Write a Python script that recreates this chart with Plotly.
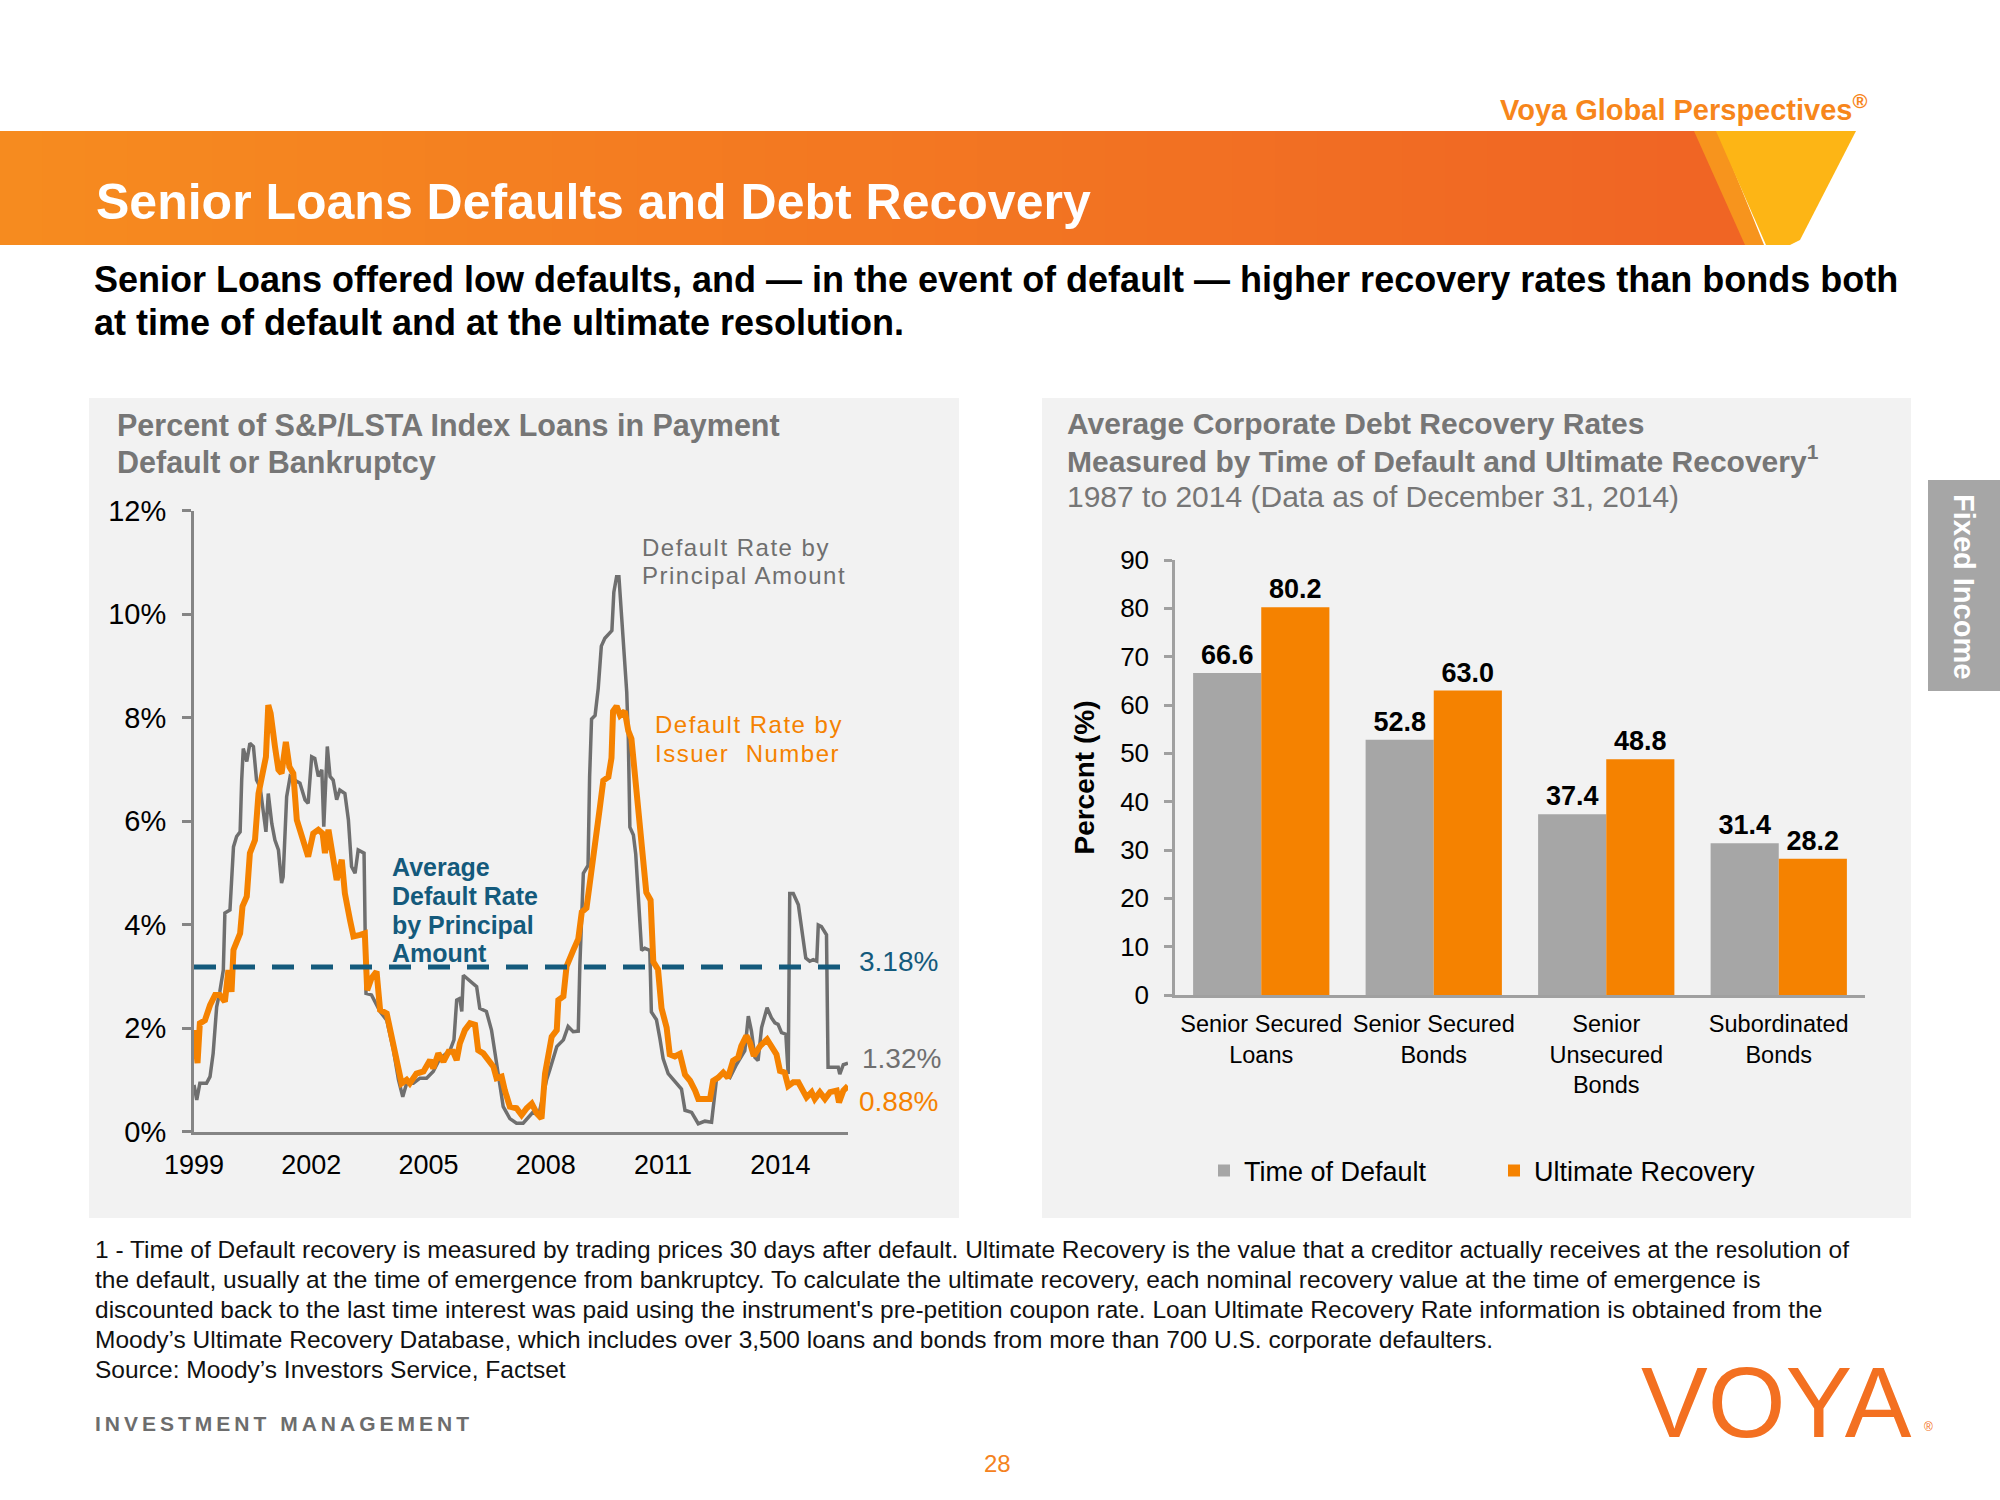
import plotly.graph_objects as go

# ---------------- data ----------------
PRINCIPAL_DATES = [
    1999.00, 1999.07, 1999.15, 1999.32, 1999.41, 1999.49, 1999.58, 1999.66, 1999.75, 1999.79,
    1999.92, 2000.01, 2000.09, 2000.18, 2000.22, 2000.26, 2000.35, 2000.43, 2000.52, 2000.60,
    2000.69, 2000.77, 2000.84, 2000.90, 2000.99, 2001.07, 2001.16, 2001.24, 2001.28, 2001.37,
    2001.46, 2001.58, 2001.71, 2001.84, 2001.92, 2002.01, 2002.09, 2002.18, 2002.27, 2002.32,
    2002.41, 2002.48, 2002.56, 2002.65, 2002.73, 2002.86, 2002.95, 2003.03, 2003.12, 2003.20,
    2003.35, 2003.40, 2003.54, 2003.76, 2003.93, 2004.10, 2004.23, 2004.34, 2004.44, 2004.61,
    2004.78, 2004.95, 2005.12, 2005.29, 2005.55, 2005.65, 2005.72, 2005.80, 2005.85, 2005.89,
    2006.23, 2006.31, 2006.48, 2006.61, 2006.74, 2006.83, 2006.91, 2007.08, 2007.25, 2007.42,
    2007.59, 2007.68, 2007.81, 2008.02, 2008.10, 2008.28, 2008.45, 2008.57, 2008.70, 2008.83,
    2008.87, 2008.96, 2009.08, 2009.12, 2009.17, 2009.26, 2009.34, 2009.42, 2009.51, 2009.69,
    2009.74, 2009.81, 2009.87, 2009.90, 2009.98, 2010.07, 2010.11, 2010.15, 2010.24, 2010.30,
    2010.36, 2010.45, 2010.53, 2010.66, 2010.70, 2010.83, 2010.92, 2011.00, 2011.13, 2011.30,
    2011.47, 2011.56, 2011.73, 2011.90, 2012.07, 2012.24, 2012.33, 2012.37, 2012.54, 2012.71,
    2012.88, 2013.00, 2013.09, 2013.18, 2013.26, 2013.35, 2013.43, 2013.52, 2013.60, 2013.66,
    2013.77, 2013.86, 2013.94, 2014.03, 2014.14, 2014.20, 2014.24, 2014.33, 2014.46, 2014.54,
    2014.65, 2014.75, 2014.84, 2014.93, 2014.97, 2015.05, 2015.18, 2015.22, 2015.35, 2015.48,
    2015.52, 2015.61, 2015.73,
]
PRINCIPAL_RATE = [
    0.90, 0.61, 0.93, 0.93, 1.06, 1.51, 2.41, 2.70, 3.12, 4.22,
    4.28, 5.50, 5.70, 5.79, 6.79, 7.40, 7.15, 7.50, 7.44, 6.79,
    6.66, 6.15, 5.79, 6.53, 5.95, 5.63, 5.44, 4.80, 4.92, 6.47,
    6.86, 6.79, 6.73, 6.41, 6.34, 7.24, 7.21, 6.86, 6.99, 5.89,
    7.44, 6.86, 6.79, 6.41, 6.60, 6.53, 6.02, 5.12, 4.99, 5.44,
    5.38, 2.67, 2.64, 2.32, 2.15, 1.58, 1.00, 0.67, 0.93, 0.93,
    1.03, 1.03, 1.16, 1.41, 1.57, 1.77, 2.54, 2.57, 2.32, 3.02,
    2.80, 2.38, 2.32, 1.96, 1.32, 0.87, 0.48, 0.25, 0.16, 0.16,
    0.29, 0.38, 0.29, 1.00, 1.19, 1.64, 1.77, 2.03, 1.93, 1.94,
    3.20, 4.99, 5.14, 6.85, 7.97, 8.04, 8.56, 9.38, 9.53, 9.68,
    10.42, 10.72, 10.72, 10.35, 9.46, 8.49, 7.59, 5.88, 5.73, 5.36,
    4.62, 3.50, 3.54, 3.50, 2.31, 2.16, 1.79, 1.41, 1.12, 0.97,
    0.82, 0.41, 0.37, 0.15, 0.20, 0.18, 0.85, 1.04, 1.11, 1.04,
    1.30, 1.46, 1.56, 2.23, 1.94, 1.43, 1.37, 2.01, 2.20, 2.39,
    2.20, 2.10, 2.07, 1.91, 1.88, 1.11, 4.60, 4.60, 4.38, 3.93,
    3.35, 3.29, 3.32, 3.29, 3.99, 3.96, 3.80, 1.24, 1.24, 1.24,
    1.11, 1.29, 1.32,
]
ISSUER_DATES = [
    1999.00, 1999.09, 1999.15, 1999.28, 1999.41, 1999.54, 1999.66, 1999.79, 1999.88, 1999.96,
    2000.01, 2000.18, 2000.24, 2000.35, 2000.43, 2000.56, 2000.65, 2000.76, 2000.84, 2000.90,
    2000.96, 2001.07, 2001.16, 2001.24, 2001.35, 2001.44, 2001.54, 2001.63, 2001.75, 2001.92,
    2002.05, 2002.18, 2002.29, 2002.35, 2002.44, 2002.52, 2002.65, 2002.78, 2002.86, 2002.99,
    2003.08, 2003.25, 2003.37, 2003.43, 2003.54, 2003.67, 2003.76, 2003.93, 2004.06, 2004.18,
    2004.31, 2004.44, 2004.52, 2004.69, 2004.87, 2005.04, 2005.12, 2005.25, 2005.38, 2005.51,
    2005.63, 2005.72, 2005.80, 2005.93, 2006.06, 2006.19, 2006.27, 2006.40, 2006.53, 2006.66,
    2006.74, 2006.87, 2006.95, 2007.08, 2007.25, 2007.38, 2007.51, 2007.64, 2007.77, 2007.89,
    2007.98, 2008.06, 2008.15, 2008.28, 2008.32, 2008.45, 2008.53, 2008.70, 2008.83, 2008.92,
    2009.04, 2009.12, 2009.21, 2009.30, 2009.38, 2009.47, 2009.60, 2009.68, 2009.72, 2009.81,
    2009.90, 2010.02, 2010.11, 2010.19, 2010.28, 2010.36, 2010.45, 2010.57, 2010.68, 2010.75,
    2010.87, 2010.96, 2011.09, 2011.17, 2011.30, 2011.43, 2011.56, 2011.69, 2011.82, 2011.90,
    2012.20, 2012.28, 2012.41, 2012.54, 2012.66, 2012.79, 2012.92, 2013.00, 2013.13, 2013.22,
    2013.32, 2013.48, 2013.66, 2013.80, 2013.90, 2013.99, 2014.11, 2014.20, 2014.33, 2014.46,
    2014.54, 2014.67, 2014.80, 2014.88, 2015.01, 2015.14, 2015.27, 2015.44, 2015.50, 2015.61,
    2015.73,
]
ISSUER_RATE = [
    1.96, 1.32, 2.09, 2.15, 2.44, 2.64, 2.64, 2.51, 3.12, 2.70,
    3.51, 3.83, 4.35, 4.54, 5.38, 5.63, 6.53, 6.92, 7.24, 8.24,
    8.08, 7.44, 6.99, 6.92, 7.53, 7.05, 6.92, 6.02, 5.76, 5.31,
    5.76, 5.83, 5.76, 5.38, 5.83, 5.44, 4.86, 5.25, 4.60, 4.09,
    3.77, 3.80, 3.83, 2.73, 2.96, 3.09, 2.35, 2.28, 1.77, 1.38,
    0.93, 1.00, 0.93, 1.12, 1.16, 1.38, 1.22, 1.51, 1.35, 1.54,
    1.54, 1.38, 1.70, 1.96, 2.09, 2.06, 1.57, 1.51, 1.38, 1.25,
    1.03, 1.06, 0.80, 0.48, 0.45, 0.32, 0.45, 0.54, 0.35, 0.25,
    1.12, 1.51, 1.83, 1.96, 2.54, 2.61, 3.19, 3.50, 3.72, 4.24,
    4.32, 4.77, 5.36, 5.96, 6.25, 6.78, 6.85, 7.22, 8.12, 8.22,
    8.04, 8.12, 7.74, 7.59, 6.85, 6.11, 5.51, 4.62, 4.47, 3.28,
    3.13, 2.38, 2.01, 1.49, 1.45, 1.50, 1.10, 0.98, 0.79, 0.63,
    0.63, 0.98, 1.04, 1.14, 1.04, 1.37, 1.43, 1.65, 1.85, 1.72,
    1.46, 1.65, 1.78, 1.62, 1.49, 1.17, 1.14, 0.88, 0.95, 0.95,
    0.85, 0.66, 0.76, 0.63, 0.76, 0.63, 0.76, 0.79, 0.56, 0.79,
    0.88,
]
AVERAGE_RATE = 3.18
LAST_PRINCIPAL = "1.32%"
LAST_ISSUER = "0.88%"
YEAR_TICKS = [1999, 2002, 2005, 2008, 2011, 2014]
YEAR_LABELS = ["1999", "2002", "2005", "2008", "2011", "2014"]
PCT_TICKS = [0, 2, 4, 6, 8, 10, 12]
PCT_LABELS = ["0%", "2%", "4%", "6%", "8%", "10%", "12%"]

CATEGORIES = ["Senior Secured<br>Loans", "Senior Secured<br>Bonds",
              "Senior<br>Unsecured<br>Bonds", "Subordinated<br>Bonds"]
TIME_OF_DEFAULT = [66.6, 52.8, 37.4, 31.4]
ULTIMATE_RECOVERY = [80.2, 63.0, 48.8, 28.2]

FOOTNOTE = [
    "1 - Time of Default recovery is measured by trading prices 30 days after default. Ultimate Recovery is the value that a creditor actually receives at the resolution of",
    "the default, usually at the time of emergence from bankruptcy. To calculate the ultimate recovery, each nominal recovery value at the time of emergence is",
    "discounted back to the last time interest was paid using the instrument's pre-petition coupon rate. Loan Ultimate Recovery Rate information is obtained from the",
    "Moody\u2019s Ultimate Recovery Database, which includes over 3,500 loans and bonds from more than 700 U.S. corporate defaulters.",
    "Source: Moody\u2019s Investors Service, Factset",
]

# ---------------- page geometry helpers ----------------
W, H = 2000, 1500
FONT = "Liberation Sans, Arial, Helvetica, sans-serif"
ORANGE = "#F58200"
GRAY_LINE = "#6F6F6F"
BLUE = "#145A7C"
TITLE_GRAY = "#767676"


def px(x):
    return x / W


def py(y):
    return 1 - y / H


def poly(points):
    return "M " + " L ".join(f"{px(x):.5f},{py(y):.5f}" for x, y in points) + " Z"


fig = go.Figure()

# ---------------- left chart ----------------
fig.add_trace(go.Scatter(x=PRINCIPAL_DATES, y=PRINCIPAL_RATE, mode="lines",
                         line=dict(color=GRAY_LINE, width=3.5),
                         xaxis="x", yaxis="y", showlegend=False, hoverinfo="skip"))
fig.add_trace(go.Scatter(x=ISSUER_DATES, y=ISSUER_RATE, mode="lines",
                         line=dict(color=ORANGE, width=6),
                         xaxis="x", yaxis="y", showlegend=False, hoverinfo="skip"))
fig.add_trace(go.Scatter(x=[PRINCIPAL_DATES[0], PRINCIPAL_DATES[-1]],
                         y=[AVERAGE_RATE, AVERAGE_RATE], mode="lines",
                         line=dict(color=BLUE, width=5, dash="22px,17px"),
                         xaxis="x", yaxis="y", showlegend=False, hoverinfo="skip"))

# ---------------- right chart ----------------
fig.add_trace(go.Bar(x=CATEGORIES, y=TIME_OF_DEFAULT, name="Time of Default",
                     marker_color="#A6A6A6", marker_line_width=0,
                     text=[f"{v:.1f}" for v in TIME_OF_DEFAULT], textposition="outside",
                     textfont=dict(family=FONT, size=27, color="#000000", weight="bold"),
                     cliponaxis=False, xaxis="x2", yaxis="y2", hoverinfo="skip"))
fig.add_trace(go.Bar(x=CATEGORIES, y=ULTIMATE_RECOVERY, name="Ultimate Recovery",
                     marker_color=ORANGE, marker_line_width=0,
                     text=[f"{v:.1f}" for v in ULTIMATE_RECOVERY], textposition="outside",
                     textfont=dict(family=FONT, size=27, color="#000000", weight="bold"),
                     cliponaxis=False, xaxis="x2", yaxis="y2", hoverinfo="skip"))

# ---------------- shapes (page decoration) ----------------
shapes = []
shapes.append(dict(type="rect", xref="paper", yref="paper", x0=px(89), x1=px(959), y0=py(1218), y1=py(398),
                   fillcolor="#F2F2F2", line_width=0, layer="below"))
shapes.append(dict(type="rect", xref="paper", yref="paper", x0=px(1042), x1=px(1911), y0=py(1218), y1=py(398),
                   fillcolor="#F2F2F2", line_width=0, layer="below"))
c0 = (246, 139, 31)
c1 = (240, 101, 36)
N = 40
bx_end = 1700
for i in range(N):
    f = i / (N - 1)
    col = tuple(round(c0[k] + (c1[k] - c0[k]) * f) for k in range(3))
    shapes.append(dict(type="rect", xref="paper", yref="paper",
                       x0=px(bx_end * i / N), x1=px(bx_end * (i + 1) / N + 1),
                       y0=py(245), y1=py(131),
                       fillcolor=f"rgb{col}", line_width=0, layer="below"))
shapes.append(dict(type="path", xref="paper", yref="paper",
                   path=poly([(1690, 131), (1700, 131), (1748, 245), (1690, 245)]),
                   fillcolor="rgb(240,101,36)", line_width=0, layer="below"))
shapes.append(dict(type="path", xref="paper", yref="paper",
                   path=poly([(1694, 131), (1718, 131), (1764, 245), (1745, 245)]),
                   fillcolor="#F7941D", line_width=0, layer="below"))
shapes.append(dict(type="path", xref="paper", yref="paper",
                   path=poly([(1716, 131), (1856, 131), (1800, 240), (1790, 245), (1766, 245)]),
                   fillcolor="#FDB515", line_width=0, layer="below"))
shapes.append(dict(type="rect", xref="paper", yref="paper", x0=px(1928), x1=px(2000), y0=py(691), y1=py(480),
                   fillcolor="#A6A6A6", line_width=0, layer="below"))

# ---------------- annotations ----------------
ann = []


def txt(x, y, s, size, color, bold=False, anchor="left", angle=0, family=FONT):
    ann.append(dict(xref="paper", yref="paper", x=px(x), y=py(y), text=s, showarrow=False,
                    xanchor=anchor, yanchor="middle", textangle=angle,
                    font=dict(family=family, size=size, color=color,
                              weight="bold" if bold else "normal")))


def spaced(s, ls):
    return f'<span style="letter-spacing:{ls}px">{s}</span>'


txt(1869, 108, "Voya Global Perspectives<sup>\u00ae</sup>", 29, "#F7861B", bold=True, anchor="right")
txt(94, 202, "Senior Loans Defaults and Debt Recovery", 50, "#FFFFFF", bold=True)
txt(92, 280, "Senior Loans offered low defaults, and \u2014 in the event of default \u2014 higher recovery rates than bonds both", 36, "#000000", bold=True)
txt(92, 322, "at time of default and at the ultimate resolution.", 36, "#000000", bold=True)

# left chart text
txt(115, 425, "Percent of S&amp;P/LSTA Index Loans in Payment", 30.5, TITLE_GRAY, bold=True)
txt(115, 462, "Default or Bankruptcy", 30.5, TITLE_GRAY, bold=True)
txt(640, 547, spaced("Default Rate by", 1.5), 24, "#6F6F6F")
txt(640, 575, spaced("Principal Amount", 1.5), 24, "#6F6F6F")
txt(653, 724, spaced("Default Rate by", 1.5), 24, ORANGE)
txt(653, 753, spaced("Issuer  Number", 1.5), 24, ORANGE)
txt(390, 867, "Average", 25, BLUE, bold=True)
txt(390, 896, "Default Rate", 25, BLUE, bold=True)
txt(390, 925, "by Principal", 25, BLUE, bold=True)
txt(390, 953, "Amount", 25, BLUE, bold=True)
txt(857, 961, f"{AVERAGE_RATE:.2f}%", 28, BLUE)
txt(860, 1058, LAST_PRINCIPAL, 28, "#6F6F6F")
txt(857, 1101, LAST_ISSUER, 28, ORANGE)

# right chart text
txt(1065, 423, "Average Corporate Debt Recovery Rates", 30, TITLE_GRAY, bold=True)
txt(1065, 459, "Measured by Time of Default and Ultimate Recovery<sup>1</sup>", 30, TITLE_GRAY, bold=True)
txt(1065, 496, "1987 to 2014 (Data as of December 31, 2014)", 30, TITLE_GRAY)

# footnotes
for i, line in enumerate(FOOTNOTE):
    txt(93, 1249 + i * 30, line, 24.5, "#111111")

txt(93, 1423, spaced("INVESTMENT MANAGEMENT", 4), 21, "#6D6D6D", bold=True)
txt(1776, 1402, "VOYA", 100, "#F37021", anchor="center")
txt(1922, 1427, "\u00ae", 12, "#F37021")
txt(997, 1463, "28", 24, "#F58220", anchor="center")
txt(1964, 586, "Fixed Income", 29, "#FFFFFF", bold=True, anchor="center", angle=90)

# ---------------- layout ----------------
AXIS_GRAY = "#858585"
fig.update_layout(
    template="none",
    width=W, height=H, margin=dict(l=0, r=0, t=0, b=0, pad=0, autoexpand=False),
    paper_bgcolor="#FFFFFF", plot_bgcolor="rgba(0,0,0,0)",
    font=dict(family=FONT, color="#000000"),
    barmode="group", bargap=0.21, bargroupgap=0,
    shapes=shapes, annotations=ann,
    xaxis=dict(domain=[px(194), px(848)], range=[PRINCIPAL_DATES[0], PRINCIPAL_DATES[-1]],
               tickmode="array", tickvals=YEAR_TICKS, ticktext=YEAR_LABELS,
               showline=True, linecolor=AXIS_GRAY, linewidth=3, ticks="",
               showgrid=False, zeroline=False, tickfont=dict(size=27, color="#000000"),
               ticklabelstandoff=7, anchor="y", fixedrange=True, automargin=False),
    yaxis=dict(domain=[py(1131.5), py(510.5)], range=[0, 12],
               tickmode="array", tickvals=PCT_TICKS, ticktext=PCT_LABELS,
               showline=True, linecolor=AXIS_GRAY, linewidth=3,
               ticks="outside", ticklen=9, tickwidth=3, tickcolor=AXIS_GRAY,
               showgrid=False, zeroline=False, tickfont=dict(size=29, color="#000000"),
               ticklabelstandoff=10, anchor="x", fixedrange=True, automargin=False),
    xaxis2=dict(domain=[px(1175), px(1865)], type="category", tickangle=0,
                showline=True, linecolor="#A0A0A0", linewidth=2.5, ticks="",
                showgrid=False, zeroline=False, tickfont=dict(size=23.5, color="#000000"),
                ticklabelstandoff=6, anchor="y2", fixedrange=True, automargin=False),
    yaxis2=dict(domain=[py(995), py(560)], range=[0, 90], dtick=10,
                showline=True, linecolor="#A0A0A0", linewidth=2.5,
                ticks="outside", ticklen=8, tickwidth=2.5, tickcolor="#A0A0A0",
                showgrid=False, zeroline=False, tickfont=dict(size=26, color="#000000"),
                ticklabelstandoff=10, anchor="x2", fixedrange=True, automargin=False,
                title=dict(text="Percent (%)", standoff=18,
                           font=dict(size=28, color="#000000", weight="bold"))),
    showlegend=True,
    legend=dict(orientation="h", x=px(1204), y=py(1171), xanchor="left", yanchor="middle",
                font=dict(size=27, color="#000000"), bgcolor="rgba(0,0,0,0)", borderwidth=0,
                entrywidth=245, entrywidthmode="pixels", traceorder="normal"),
)

fig.write_html("out.html", config={"displayModeBar": False},
               post_script="document.body.style.margin='0';document.body.style.overflow='hidden';")
